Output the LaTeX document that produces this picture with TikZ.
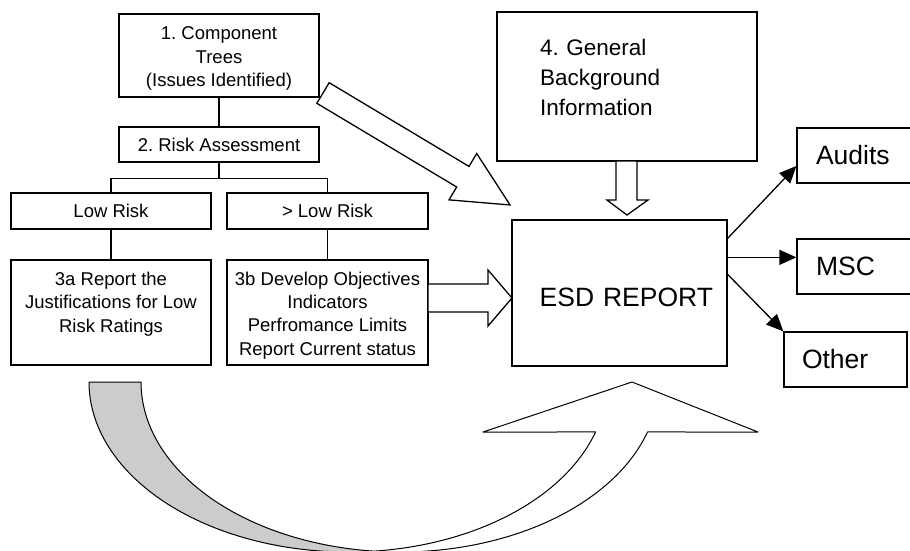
\documentclass[tikz,border=0pt]{standalone}
\usepackage{fontspec}
\setmainfont{Liberation Sans}
\usetikzlibrary{arrows.meta}
\definecolor{bandgray}{RGB}{204,204,204}
\frenchspacing
\begin{document}
\begin{tikzpicture}[x=1pt, y=-1pt,
  box/.style={draw=black, line width=1.3pt, fill=white, inner sep=0pt,
    align=center, font=\fontsize{18.5}{23.4}\selectfont},
  bigbox/.style={box, font=\fontsize{26.5}{30}\selectfont},
  tree/.style={line width=1.3pt},
  hollow/.style={draw=black, fill=white, line width=1.3pt, line join=miter},
  feed/.style={line width=1.3pt, -{Triangle[length=17pt,width=15pt]}},
  band/.style={draw=black, line width=1pt, line join=round}]

% canvas
\useasboundingbox (0,0) rectangle (910,550);
\fill[white] (0,0) rectangle (910,550);

% left-hand tree
\node[box, minimum width=200pt, minimum height=83pt, text height=66pt] (trees) at (219,55.5)
  {1. Component\\Trees\\(Issues Identified)};
\node[box, minimum width=200pt, minimum height=35pt] (risk) at (219,144.5)
  {2. Risk Assessment};
\node[box, minimum width=200pt, minimum height=36pt] (low) at (111,211) {Low Risk};
\node[box, minimum width=201pt, minimum height=36pt] (high) at (327.5,211) {> Low Risk};
\node[box, minimum width=200pt, minimum height=105pt, text height=66pt, text depth=27pt] (lowrep) at (111,312.5)
  {3a Report the\\Justifications for Low\\Risk Ratings};
\node[box, minimum width=201pt, minimum height=105pt, text height=89.5pt] (highrep) at (327.5,312.5)
  {3b Develop Objectives\\Indicators\\Perfromance Limits\\Report Current status};

\draw[tree] (trees.south) -- (risk.north);
\draw[tree] (risk.south) -- ++(0,16) coordinate (split);
\draw[tree] (low.north) |- (split) -| (high.north);
\draw[tree] (low.south) -- (lowrep.north);
\draw[tree] (high.south) -- (highrep.north);

% background information and the report
\node[box, minimum width=260pt, minimum height=149pt, text width=174pt, inner xsep=43pt,
  align=left, text depth=79pt, font=\fontsize{22.5}{30}\selectfont] (bg) at (627,86.5)
  {4. General\\Background\\Information};
\node[bigbox, minimum width=215pt, minimum height=146pt, text width=187pt, inner xsep=14pt,
  align=right, text height=27pt, text depth=0pt] (esd) at (619.5,293) {ESD REPORT};

% outputs
\node[bigbox, minimum width=128pt, minimum height=55pt, text width=90pt, inner xsep=19pt,
  align=left] (audits) at (861,155.5) {Audits};
\node[bigbox, minimum width=128pt, minimum height=55pt, text width=90pt, inner xsep=19pt,
  align=left] (msc) at (861,266.5) {MSC};
\node[bigbox, minimum width=123pt, minimum height=55pt, text width=87pt, inner xsep=18pt,
  align=left] (other) at (845.5,359.5) {Other};

\draw[feed] ([yshift=-19pt]esd.north east) -- ([yshift=-10.5pt]audits.west);
\draw[feed] ([yshift=-38pt]esd.north east) coordinate (m0) -- (m0 -| msc.west);
\draw[feed] ([yshift=-55pt]esd.north east) -- (other.north west);

% block arrows into the report
\begin{scope}[shift={(323,93)}, rotate=-30.9]
  \draw[hollow] (0,-12) -- (163,-12) -- (163,-27) -- (218,0) -- (163,27) -- (163,12) -- (0,12) -- cycle;
\end{scope}
\draw[hollow] (428,284) -- (488,284) -- (488,270) -- (512,298) -- (488,326) -- (488,312) -- (428,312) -- cycle;
\draw[hollow] (616,161) -- (616,200) -- (607,200) -- (627,215) -- (648,200) -- (637,200) -- (637,161) -- cycle;

% curved return arrow under the tree
\begin{scope}
  \clip (0,0) rectangle (910,550);
  \draw[band, fill=bandgray]
    plot[domain=180:84.24, samples=70] ({348+259*cos(\x)},{382+170*sin(\x)})
    -- plot[domain=95.76:180, samples=70] ({400+259*cos(\x)},{382+170*sin(\x)})
    -- cycle;
  \draw[band, fill=white]
    plot[domain=95.76:17.1, samples=70] ({400+259*cos(\x)},{382+170*sin(\x)})
    -- (758,432) -- (632,382) -- (483,432)
    -- plot[domain=17.1:84.24, samples=70] ({348+259*cos(\x)},{382+170*sin(\x)})
    -- cycle;
\end{scope}
\end{tikzpicture}
\end{document}
